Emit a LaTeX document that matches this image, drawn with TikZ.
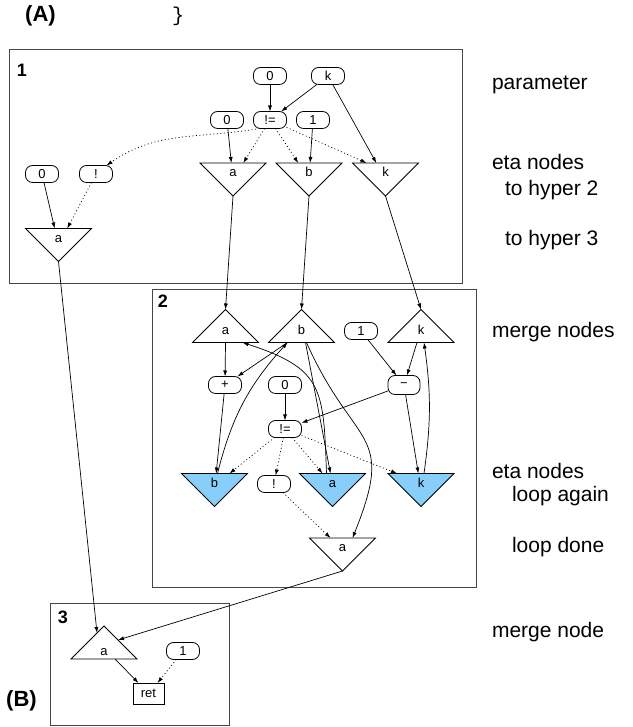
\documentclass[tikz,border=0pt]{standalone}
\usepackage{fontspec}
\setmainfont{Liberation Sans}
\newfontfamily\codefont{Liberation Mono}
\usetikzlibrary{arrows.meta,backgrounds}
\definecolor{etablue}{RGB}{135,206,250}
\definecolor{boxgray}{RGB}{70,70,70}
\begin{document}
\begin{tikzpicture}[x=1pt,y=1pt,
  every node/.style={font=\fontsize{13}{15}\selectfont, inner sep=0pt, outer sep=0pt},
  val/.style={draw, line width=0.8pt, rounded corners=7pt, minimum width=33pt, minimum height=17pt},
  retbox/.style={draw, line width=0.8pt, minimum width=31pt, minimum height=21pt},
  tri/.style={minimum width=66pt, minimum height=33pt},
  tridown/.style={tri, text height=4pt, text depth=9.6pt},
  triup/.style={tri, text height=16.8pt, text depth=0pt},
  triupb/.style={tri, text height=27pt, text depth=0pt},
  hbox/.style={draw=boxgray, line width=0.9pt},
  boxnum/.style={font=\fontsize{18}{20}\selectfont\bfseries},
  panel/.style={font=\fontsize{22}{24}\selectfont\bfseries},
  side/.style={anchor=west, font=\fontsize{21}{24}\selectfont},
  arr/.style={-{Latex[length=6pt,width=4pt]}, line width=0.7pt},
  dot/.style={arr, dash pattern=on 1pt off 2.5pt},
  trio/.style={line width=0.8pt},
]
\useasboundingbox (0,0) rectangle (632,727);

% panel labels
\node[panel] (pA) at (40.5,711) {(A)};
\node[font=\fontsize{20}{22}\selectfont\codefont] (brace) at (178,711) {\}};
\node[panel] (pB) at (21.5,26) {(B)};

% hyper boxes
\draw[hbox] (9.5,444) rectangle (462,678);
\draw[hbox] (152,140) rectangle (476,438);
\draw[hbox] (50,2) rectangle (229,124);
\node[boxnum] (n1) at (22,657) {1};
\node[boxnum] (n2) at (163,426) {2};
\node[boxnum] (n3) at (63,110) {3};

% ---- box 1
\node[val] (z1) at (270,651) {0};
\node[val] (k1) at (328,651) {k};
\node[val] (z2) at (227,607) {0};
\node[val] (ne1) at (270,607) {!=};
\node[val] (one1) at (313,607) {1};
\node[val] (z3) at (42,553) {0};
\node[val] (not1) at (96,553) {!};
\node[tridown] (e1a) at (233,547.5) {a};
\node[tridown] (e1b) at (309,547.5) {b};
\node[tridown] (e1k) at (385.5,547.5) {k};
\node[tridown] (e1x) at (58.5,482) {a};

% ---- box 2
\node[triup] (m2a) at (225.5,401) {a};
\node[triup] (m2b) at (301.5,401) {b};
\node[triup] (m2k) at (421,401) {k};
\node[val] (one2) at (361,396) {1};
\node[val] (plus) at (225,342) {+};
\node[val] (z4) at (285,342) {0};
\node[val, minimum width=32pt, minimum height=19pt] (minus) at (404,342) {−};
\node[val] (ne2) at (285,298) {!=};
\node[tridown] (eb) at (214.5,237) {b};
\node[tridown] (ea) at (332.5,237) {a};
\node[tridown] (ek) at (421,237) {k};
\node[val] (not2) at (274,243) {!};
\node[tridown] (done) at (342.5,172.5) {a};

% ---- box 3
\node[triupb] (m3a) at (104,84.5) {a};
\node[val] (one3) at (183,76) {1};
\node[retbox] (ret) at (148.5,33.5) {ret};

% triangles
\begin{scope}[on background layer]
\foreach \n in {e1a,e1b,e1k,e1x,done}
  \draw[trio] (\n.north west) -- (\n.north east) -- (\n.south) -- cycle;
\foreach \n in {eb,ea,ek}
  \draw[trio, fill=etablue] (\n.north west) -- (\n.north east) -- (\n.south) -- cycle;
\foreach \n in {m2a,m2b,m2k,m3a}
  \draw[trio] (\n.south west) -- (\n.south east) -- (\n.north) -- cycle;
\end{scope}

% side labels
\node[side] (l1) at (492,642) {parameter};
\node[side] (l2) at (492,565) {eta nodes};
\node[side] (l3) at (505,537) {to hyper 2};
\node[side] (l4) at (505,487) {to hyper 3};
\node[side] (l5) at (492,395) {merge nodes};
\node[side] (l6) at (492,256) {eta nodes};
\node[side] (l7) at (512,231) {loop again};
\node[side] (l8) at (512,180) {loop done};
\node[side] (l9) at (492,95) {merge node};

% ---- edges box 1
\draw[arr] (z1) -- (ne1);
\draw[arr] (k1) -- (ne1);
\draw[arr] (k1) -- (e1k);
\draw[arr] (z2) -- (e1a);
\draw[arr] (one1) -- (e1b);
\draw[dot] (ne1) -- (e1a);
\draw[dot] (ne1) -- (e1b);
\draw[dot] (ne1) -- ([xshift=-19pt]e1k.north);
\draw[dot] ([xshift=6pt]ne1.south west) to[out=190,in=35] ([xshift=-6pt]not1.north east);
\draw[arr] (z3) -- (e1x);
\draw[dot] (not1) -- (e1x);
\draw[arr] (e1x.south) -- ([xshift=-7pt,yshift=-7pt]m3a.north);
\draw[arr] (e1a.south) -- (m2a.north);
\draw[arr] (e1b.south) -- (m2b.north);
\draw[arr] (e1k.south) -- (m2k.north);

% ---- edges box 2
\draw[arr] (m2a.south) -- (plus);
\draw[arr] ([xshift=-14pt]m2b.south) -- (plus);
\draw[arr] ([xshift=3pt]eb.north) to[bend left=14] ([xshift=-14pt]m2b.south);
\draw[arr] (plus) -- (eb);
\draw[arr] (z4) -- (ne2);
\draw[arr] (one2) -- (minus);
\draw[arr] ([xshift=-4pt]m2k.south) -- (minus);
\draw[arr] (minus) -- (ek);
\draw[arr] ([xshift=3pt]ek.north) to[bend right=8] ([xshift=3pt]m2k.south);
\draw[arr] (minus) -- (ne2);
\draw[dot] (ne2) -- ([xshift=15pt]eb.north);
\draw[dot] (ne2) -- (not2);
\draw[dot] (ne2) -- ([xshift=-10pt]ea.north);
\draw[dot] (ne2) -- ([xshift=-24pt]ek.north);
\draw[dot] (not2) -- ([xshift=-12pt]done.north);
\draw[arr] ([xshift=4pt]m2b.south) -- ([xshift=-2pt]ea.north);
\draw[arr] ([xshift=-6pt]ea.north) to[out=92,in=-18,looseness=1.4] ([xshift=17pt]m2a.south);
\draw[arr] ([xshift=5pt]m2b.south) to[out=-66,in=68,looseness=1.5] ([xshift=10pt]done.north);
\draw[arr] (done.south) -- ([xshift=14pt,yshift=-14pt]m3a.north);

% ---- edges box 3
\draw[arr] ([xshift=11pt]m3a.south) -- ([xshift=-10pt]ret.north);
\draw[dot] (one3) -- ([xshift=9pt]ret.north);
\end{tikzpicture}
\end{document}
